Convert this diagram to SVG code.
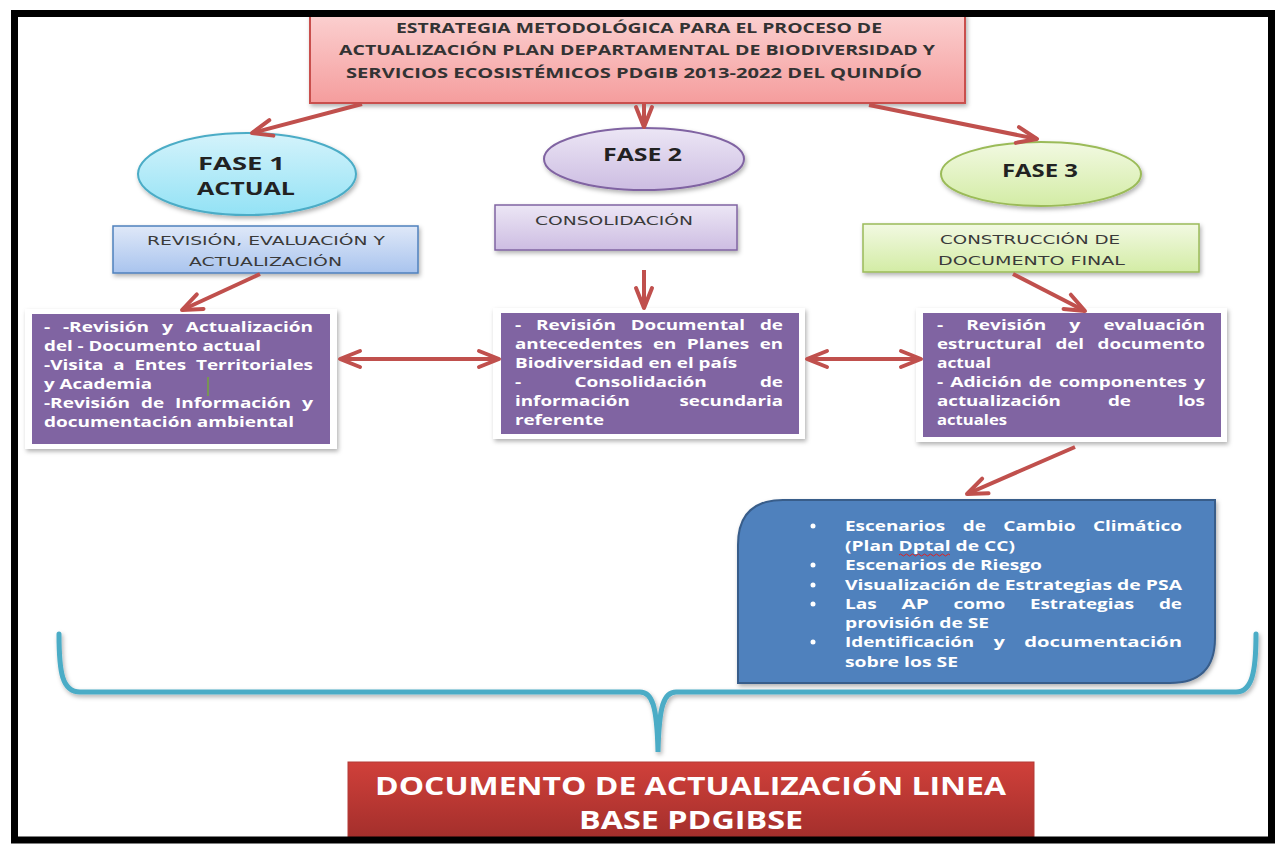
<svg xmlns="http://www.w3.org/2000/svg" width="1275" height="846" viewBox="0 0 1275 846">
<defs>
<style>
text{font-family:"Open Sans","Liberation Sans",sans-serif;}
.title{font-weight:700;font-size:14px;fill:#333;}
.fase{font-weight:700;font-size:17.5px;fill:#222;}
.lbl{font-family:"DejaVu Sans","Liberation Sans",sans-serif;font-size:12.5px;fill:#3a3a3a;}
.pt{font-weight:700;font-size:14px;fill:#fff;}
.bt{font-weight:700;font-size:14.5px;fill:#fff;}
.big{font-weight:700;font-size:25px;fill:#fff;}
.conn{stroke:#c0504d;stroke-width:4;fill:none;}
.pbox{fill:#8064a2;}
.frame{fill:#fff;filter:url(#sh);}
</style>
<marker id="ah" markerUnits="userSpaceOnUse" viewBox="0 0 26 22" refX="23" refY="11" markerWidth="26" markerHeight="22" orient="auto-start-reverse">
<path d="M3,3 L23,11 L3,19" fill="none" stroke="#c0504d" stroke-width="4" stroke-linecap="round" stroke-linejoin="round"/>
</marker>
<filter id="sh" x="-10%" y="-10%" width="125%" height="130%">
<feDropShadow dx="1.5" dy="2.5" stdDeviation="2" flood-color="#000" flood-opacity="0.3"/>
</filter>
<linearGradient id="gTitle" x1="0" y1="0" x2="0" y2="1"><stop offset="0" stop-color="#fbd0d0"/><stop offset="1" stop-color="#f59d9d"/></linearGradient>
<linearGradient id="gCyan" x1="0" y1="0" x2="0" y2="1"><stop offset="0" stop-color="#d4f3fb"/><stop offset="1" stop-color="#93e2f5"/></linearGradient>
<linearGradient id="gLav" x1="0" y1="0" x2="0" y2="1"><stop offset="0" stop-color="#ece6f5"/><stop offset="1" stop-color="#cdbde2"/></linearGradient>
<linearGradient id="gGreen" x1="0" y1="0" x2="0" y2="1"><stop offset="0" stop-color="#f2f9e2"/><stop offset="1" stop-color="#d3eca5"/></linearGradient>
<linearGradient id="gBlue" x1="0" y1="0" x2="0" y2="1"><stop offset="0" stop-color="#dfe8f8"/><stop offset="1" stop-color="#a9c4ee"/></linearGradient>
<linearGradient id="gRed" x1="0" y1="0" x2="0" y2="1"><stop offset="0" stop-color="#d0403a"/><stop offset="1" stop-color="#a12e2b"/></linearGradient>
</defs>
<rect x="0" y="0" width="1275" height="846" fill="#fff"/>

<g id="title">
<rect x="310" y="14" width="655" height="89" fill="url(#gTitle)" stroke="#c9504e" stroke-width="2" filter="url(#sh)"/>
<text class="title" x="396" y="33" textLength="486" lengthAdjust="spacingAndGlyphs">ESTRATEGIA METODOLÓGICA PARA EL PROCESO DE</text>
<text class="title" x="339" y="55" textLength="596" lengthAdjust="spacingAndGlyphs">ACTUALIZACIÓN PLAN DEPARTAMENTAL DE BIODIVERSIDAD Y</text>
<text class="title" x="346" y="78" textLength="576" lengthAdjust="spacingAndGlyphs">SERVICIOS ECOSISTÉMICOS PDGIB 2013-2022 DEL QUINDÍO</text>
</g>

<g id="fase1">
<ellipse cx="247" cy="174" rx="109" ry="41" fill="url(#gCyan)" stroke="#4bacc6" stroke-width="2" filter="url(#sh)"/>
<text class="fase" x="198" y="170" textLength="87" lengthAdjust="spacingAndGlyphs">FASE 1</text>
<text class="fase" x="197" y="195" textLength="98" lengthAdjust="spacingAndGlyphs">ACTUAL</text>
</g>
<g id="fase2">
<ellipse cx="644" cy="159" rx="100" ry="31" fill="url(#gLav)" stroke="#8064a2" stroke-width="2" filter="url(#sh)"/>
<text class="fase" x="603" y="161" textLength="79" lengthAdjust="spacingAndGlyphs">FASE 2</text>
</g>
<g id="fase3">
<ellipse cx="1041" cy="174" rx="100" ry="32" fill="url(#gGreen)" stroke="#9bbb59" stroke-width="2" filter="url(#sh)"/>
<text class="fase" x="1002" y="177" textLength="76" lengthAdjust="spacingAndGlyphs">FASE 3</text>
</g>

<g id="lbl1">
<rect x="113" y="226" width="305" height="47" fill="url(#gBlue)" stroke="#4f81bd" stroke-width="1.5" filter="url(#sh)"/>
<text class="lbl" x="147" y="245" textLength="238" lengthAdjust="spacingAndGlyphs">REVISIÓN, EVALUACIÓN Y</text>
<text class="lbl" x="189" y="266" textLength="153" lengthAdjust="spacingAndGlyphs">ACTUALIZACIÓN</text>
</g>
<g id="lbl2">
<rect x="495" y="205" width="242" height="45" fill="url(#gLav)" stroke="#8064a2" stroke-width="1.5" filter="url(#sh)"/>
<text class="lbl" x="535" y="225" textLength="158" lengthAdjust="spacingAndGlyphs">CONSOLIDACIÓN</text>
</g>
<g id="lbl3">
<rect x="863" y="224" width="336" height="48" fill="url(#gGreen)" stroke="#9bbb59" stroke-width="1.5" filter="url(#sh)"/>
<text class="lbl" x="940" y="244" textLength="180" lengthAdjust="spacingAndGlyphs">CONSTRUCCIÓN DE</text>
<text class="lbl" x="938" y="265" textLength="187" lengthAdjust="spacingAndGlyphs">DOCUMENTO FINAL</text>
</g>

<g id="box1">
<rect class="frame" x="25" y="309" width="312" height="140"/>
<rect class="pbox" x="32" y="314" width="298" height="130"/>
<text class="pt" x="44" y="332" textLength="6.2" lengthAdjust="spacingAndGlyphs">-</text>
<text class="pt" x="63" y="332" textLength="86.1" lengthAdjust="spacingAndGlyphs">-Revisión</text>
<text class="pt" x="161.9" y="332" textLength="11.1" lengthAdjust="spacingAndGlyphs">y</text>
<text class="pt" x="185.8" y="332" textLength="127.2" lengthAdjust="spacingAndGlyphs">Actualización</text>
<text class="pt" x="44" y="351" textLength="217" lengthAdjust="spacingAndGlyphs">del - Documento actual</text>
<text class="pt" x="44" y="370" textLength="59.5" lengthAdjust="spacingAndGlyphs">-Visita</text>
<text class="pt" x="113.3" y="370" textLength="11.3" lengthAdjust="spacingAndGlyphs">a</text>
<text class="pt" x="134.4" y="370" textLength="51.7" lengthAdjust="spacingAndGlyphs">Entes</text>
<text class="pt" x="196" y="370" textLength="117" lengthAdjust="spacingAndGlyphs">Territoriales</text>
<text class="pt" x="44" y="389" textLength="108" lengthAdjust="spacingAndGlyphs">y Academia</text>
<text class="pt" x="44" y="408" textLength="86.1" lengthAdjust="spacingAndGlyphs">-Revisión</text>
<text class="pt" x="141" y="408" textLength="23.1" lengthAdjust="spacingAndGlyphs">de</text>
<text class="pt" x="175" y="408" textLength="116" lengthAdjust="spacingAndGlyphs">Información</text>
<text class="pt" x="301.9" y="408" textLength="11.1" lengthAdjust="spacingAndGlyphs">y</text>
<text class="pt" x="44" y="427" textLength="250" lengthAdjust="spacingAndGlyphs">documentación ambiental</text>
<line x1="208" y1="377" x2="208" y2="396" stroke="#76a33c" stroke-width="1.5"/>
</g>
<g id="box2">
<rect class="frame" x="493" y="308" width="312" height="131"/>
<rect class="pbox" x="501" y="313" width="298" height="121"/>
<text class="pt" x="515" y="330" textLength="6.2" lengthAdjust="spacingAndGlyphs">-</text>
<text class="pt" x="536" y="330" textLength="79.9" lengthAdjust="spacingAndGlyphs">Revisión</text>
<text class="pt" x="630.7" y="330" textLength="114.4" lengthAdjust="spacingAndGlyphs">Documental</text>
<text class="pt" x="759.9" y="330" textLength="23.1" lengthAdjust="spacingAndGlyphs">de</text>
<text class="pt" x="515" y="349" textLength="127.4" lengthAdjust="spacingAndGlyphs">antecedentes</text>
<text class="pt" x="652.9" y="349" textLength="23.3" lengthAdjust="spacingAndGlyphs">en</text>
<text class="pt" x="686.7" y="349" textLength="62.5" lengthAdjust="spacingAndGlyphs">Planes</text>
<text class="pt" x="759.7" y="349" textLength="23.3" lengthAdjust="spacingAndGlyphs">en</text>
<text class="pt" x="515" y="368" textLength="222" lengthAdjust="spacingAndGlyphs">Biodiversidad en el país</text>
<text class="pt" x="515" y="387" textLength="6.2" lengthAdjust="spacingAndGlyphs">-</text>
<text class="pt" x="574.4" y="387" textLength="132.4" lengthAdjust="spacingAndGlyphs">Consolidación</text>
<text class="pt" x="759.9" y="387" textLength="23.1" lengthAdjust="spacingAndGlyphs">de</text>
<text class="pt" x="515" y="406" textLength="114.8" lengthAdjust="spacingAndGlyphs">información</text>
<text class="pt" x="679.5" y="406" textLength="103.5" lengthAdjust="spacingAndGlyphs">secundaria</text>
<text class="pt" x="515" y="425" textLength="89" lengthAdjust="spacingAndGlyphs">referente</text>
</g>
<g id="box3">
<rect class="frame" x="916" y="308" width="311" height="134"/>
<rect class="pbox" x="923" y="313" width="298" height="124"/>
<text class="pt" x="937" y="330" textLength="6.2" lengthAdjust="spacingAndGlyphs">-</text>
<text class="pt" x="966.3" y="330" textLength="79.9" lengthAdjust="spacingAndGlyphs">Revisión</text>
<text class="pt" x="1069.3" y="330" textLength="11.1" lengthAdjust="spacingAndGlyphs">y</text>
<text class="pt" x="1103.5" y="330" textLength="101.5" lengthAdjust="spacingAndGlyphs">evaluación</text>
<text class="pt" x="937" y="349" textLength="104.8" lengthAdjust="spacingAndGlyphs">estructural</text>
<text class="pt" x="1055.4" y="349" textLength="28.7" lengthAdjust="spacingAndGlyphs">del</text>
<text class="pt" x="1097.6" y="349" textLength="107.4" lengthAdjust="spacingAndGlyphs">documento</text>
<text class="pt" x="937" y="368" textLength="54" lengthAdjust="spacingAndGlyphs">actual</text>
<text class="pt" x="937" y="387" textLength="6.2" lengthAdjust="spacingAndGlyphs">-</text>
<text class="pt" x="950.2" y="387" textLength="71.6" lengthAdjust="spacingAndGlyphs">Adición</text>
<text class="pt" x="1028.8" y="387" textLength="23.1" lengthAdjust="spacingAndGlyphs">de</text>
<text class="pt" x="1058.9" y="387" textLength="128.1" lengthAdjust="spacingAndGlyphs">componentes</text>
<text class="pt" x="1193.9" y="387" textLength="11.1" lengthAdjust="spacingAndGlyphs">y</text>
<text class="pt" x="937" y="406" textLength="123.8" lengthAdjust="spacingAndGlyphs">actualización</text>
<text class="pt" x="1107.9" y="406" textLength="23.1" lengthAdjust="spacingAndGlyphs">de</text>
<text class="pt" x="1178" y="406" textLength="27" lengthAdjust="spacingAndGlyphs">los</text>
<text class="pt" x="937" y="425" textLength="70" lengthAdjust="spacingAndGlyphs">actuales</text>
</g>

<g id="box4">
<path d="M783,500 H1215 V638 Q1215,683 1170,683 H738 V545 Q738,500 783,500 Z" fill="#4f81bd" stroke="#385d8a" stroke-width="2" filter="url(#sh)"/>
<g fill="#fff">
<circle cx="813" cy="526" r="2.5"/>
<circle cx="813" cy="565" r="2.5"/>
<circle cx="813" cy="585" r="2.5"/>
<circle cx="813" cy="604" r="2.5"/>
<circle cx="813" cy="642" r="2.5"/>
</g>
<text class="bt" x="845" y="531" textLength="100.2" lengthAdjust="spacingAndGlyphs">Escenarios</text>
<text class="bt" x="962.7" y="531" textLength="23.1" lengthAdjust="spacingAndGlyphs">de</text>
<text class="bt" x="1003.3" y="531" textLength="72.2" lengthAdjust="spacingAndGlyphs">Cambio</text>
<text class="bt" x="1092.9" y="531" textLength="89.1" lengthAdjust="spacingAndGlyphs">Climático</text>
<text class="bt" x="845" y="551" textLength="170" lengthAdjust="spacingAndGlyphs">(Plan Dptal de CC)</text>
<text class="bt" x="845" y="570" textLength="197" lengthAdjust="spacingAndGlyphs">Escenarios de Riesgo</text>
<text class="bt" x="845" y="590" textLength="337" lengthAdjust="spacingAndGlyphs">Visualización de Estrategias de PSA</text>
<text class="bt" x="845" y="609" textLength="31.8" lengthAdjust="spacingAndGlyphs">Las</text>
<text class="bt" x="901.4" y="609" textLength="27.4" lengthAdjust="spacingAndGlyphs">AP</text>
<text class="bt" x="953.4" y="609" textLength="51.9" lengthAdjust="spacingAndGlyphs">como</text>
<text class="bt" x="1029.9" y="609" textLength="104.3" lengthAdjust="spacingAndGlyphs">Estrategias</text>
<text class="bt" x="1158.9" y="609" textLength="23.1" lengthAdjust="spacingAndGlyphs">de</text>
<text class="bt" x="845" y="628" textLength="144" lengthAdjust="spacingAndGlyphs">provisión de SE</text>
<text class="bt" x="845" y="647" textLength="129.2" lengthAdjust="spacingAndGlyphs">Identificación</text>
<text class="bt" x="993.7" y="647" textLength="11.1" lengthAdjust="spacingAndGlyphs">y</text>
<text class="bt" x="1024.2" y="647" textLength="157.8" lengthAdjust="spacingAndGlyphs">documentación</text>
<text class="bt" x="845" y="667" textLength="113" lengthAdjust="spacingAndGlyphs">sobre los SE</text>
<path d="M899,555 q1.5,-2 3,0 t3,0 t3,0 t3,0 t3,0 t3,0 t3,0 t3,0 t3,0 t3,0 t3,0 t3,0 t3,0 t3,0 t3,0 t3,0 t3,0" fill="none" stroke="#e02020" stroke-width="1"/>
</g>

<g id="brace">
<path d="M59,634 C59,672 62,692 80,692 L640,692 C652,692 657,705 658,752 C659,705 664,692 676,692 L1236,692 C1252,692 1256,672 1256,634" fill="none" stroke="#4bacc6" stroke-width="5" stroke-linecap="round" filter="url(#sh)"/>
</g>

<g id="result">
<rect x="348" y="762" width="686" height="80" fill="url(#gRed)" stroke="#b33a36" stroke-width="1"/>
<text class="big" x="375" y="795" textLength="631" lengthAdjust="spacingAndGlyphs">DOCUMENTO DE ACTUALIZACIÓN LINEA</text>
<text class="big" x="579" y="829" textLength="224" lengthAdjust="spacingAndGlyphs">BASE PDGIBSE</text>
</g>

<g id="connectors">
<line class="conn" x1="362" y1="104" x2="252" y2="133" marker-end="url(#ah)"/>
<line class="conn" x1="644" y1="104" x2="644" y2="127" marker-end="url(#ah)"/>
<line class="conn" x1="869" y1="105" x2="1037" y2="139" marker-end="url(#ah)"/>
<line class="conn" x1="260" y1="274" x2="182" y2="310" marker-end="url(#ah)"/>
<line class="conn" x1="644" y1="270" x2="644" y2="308" marker-end="url(#ah)"/>
<line class="conn" x1="1013" y1="274" x2="1085" y2="311" marker-end="url(#ah)"/>
<line class="conn" x1="340" y1="359" x2="499" y2="359" marker-start="url(#ah)" marker-end="url(#ah)"/>
<line class="conn" x1="807" y1="359" x2="921" y2="359" marker-start="url(#ah)" marker-end="url(#ah)"/>
<line class="conn" x1="1075" y1="447" x2="967" y2="494" marker-end="url(#ah)"/>
</g>

<rect x="14.5" y="13.5" width="1257" height="826.5" fill="none" stroke="#000" stroke-width="7"/>
</svg>
